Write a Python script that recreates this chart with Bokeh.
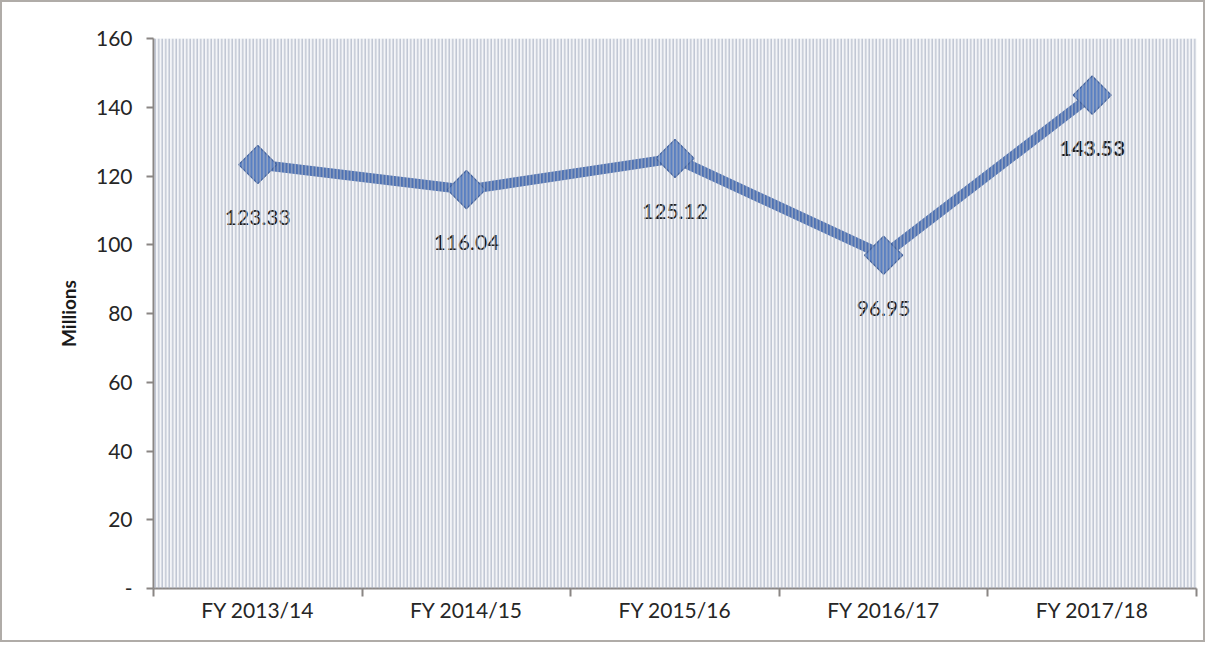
import math
from bokeh.plotting import figure
from bokeh.models import ColumnDataSource, FixedTicker, BoxAnnotation, Range1d
from bokeh.core.properties import value
from bokeh.embed import file_html
from bokeh.resources import INLINE

categories = ["FY 2013/14", "FY 2014/15", "FY 2015/16", "FY 2016/17", "FY 2017/18"]
values = [123.33, 116.04, 125.12, 96.95, 143.53]
labels = ["123.33", "116.04", "125.12", "96.95", "143.53"]
label_styles = ["normal", "normal", "normal", "normal", "bold"]
y_ticks = [0, 20, 40, 60, 80, 100, 120, 140, 160]

xs = list(range(len(categories)))
src = ColumnDataSource(dict(x=xs, y=values, label=labels, style=label_styles))

FONT = "Lato"

p = figure(width=1205, height=642, output_backend="svg", toolbar_location=None,
           x_range=Range1d(-0.5, len(categories) - 0.5), y_range=Range1d(0, 160),
           min_border_left=151, min_border_right=11, min_border_top=36, min_border_bottom=56)
p.styles = {"border": "2px solid #b0aca8", "box-sizing": "border-box"}

p.background_fill_color = "#f4f5f8"
p.border_fill_color = "white"
p.outline_line_color = None
p.xgrid.visible = False
p.ygrid.visible = False

p.add_layout(BoxAnnotation(fill_alpha=0.0, line_color=None,
                           hatch_pattern="vertical_line", hatch_color="#aab3c4",
                           hatch_scale=3.5, hatch_weight=1.4, hatch_alpha=0.75))

p.line("x", "y", source=src, line_color="#4e72b4", line_width=10)
p.scatter("x", "y", source=src, marker="square", size=27, angle=math.pi / 4,
          fill_color="#5a80c2", line_color="#3d5f9e", line_width=1.2)
p.text("x", "y", text="label", source=src, y_offset=53, text_align="center",
       text_baseline="middle", text_font=value(FONT), text_font_size="21px",
       text_font_style="style", text_color="#1a1a1a")

# axes
p.xaxis.ticker = FixedTicker(ticks=xs, minor_ticks=[i - 0.5 for i in range(len(categories) + 1)])
p.xaxis.major_label_overrides = {i: c for i, c in enumerate(categories)}
p.xaxis.major_tick_out = 0
p.xaxis.major_tick_in = 0
p.xaxis.minor_tick_out = 8
p.xaxis.minor_tick_in = 0
p.xaxis.minor_tick_line_color = "#8a8684"
p.xaxis.minor_tick_line_width = 2
p.xaxis.axis_line_color = "#8a8684"
p.xaxis.axis_line_width = 2
p.xaxis.major_label_text_font = FONT
p.xaxis.major_label_text_font_size = "21px"
p.xaxis.major_label_text_color = "#262626"
p.xaxis.major_label_standoff = 0

p.yaxis.ticker = FixedTicker(ticks=y_ticks)
p.yaxis.major_label_overrides = {0: "-"}
p.yaxis.major_tick_out = 7
p.yaxis.major_tick_in = 0
p.yaxis.minor_tick_out = 0
p.yaxis.minor_tick_in = 0
p.yaxis.major_tick_line_color = "#8a8684"
p.yaxis.major_tick_line_width = 2
p.yaxis.axis_line_color = "#8a8684"
p.yaxis.axis_line_width = 2
p.yaxis.major_label_text_font = FONT
p.yaxis.major_label_text_font_size = "21px"
p.yaxis.major_label_text_color = "#262626"
p.yaxis.major_label_standoff = 14
p.yaxis.axis_label = "Millions"
p.yaxis.axis_label_text_font = FONT
p.yaxis.axis_label_text_font_size = "19px"
p.yaxis.axis_label_text_font_style = "bold"
p.yaxis.axis_label_text_color = "#1a1a1a"
p.yaxis.axis_label_standoff = 13

open("out.html", "w").write(file_html(p, INLINE))
